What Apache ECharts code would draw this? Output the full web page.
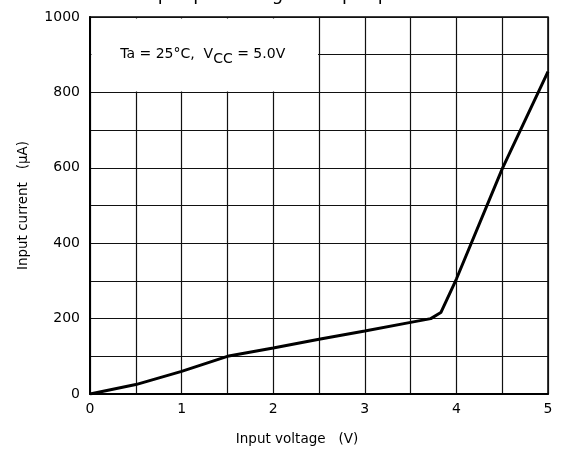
<!DOCTYPE html>
<html>
<head>
<meta charset="utf-8">
<script src="https://cdn.jsdelivr.net/npm/echarts@6/dist/echarts.min.js"></script>
<style>html,body{margin:0;padding:0;background:#fff;}#c{width:561px;height:459px;}</style>
</head>
<body>
<div id="c"></div>
<script>
const voltage = [0, 0.5, 1, 1.5, 2, 2.5, 3, 3.5, 3.72, 3.83, 4.0, 4.5, 5];
const current = [0, 25, 60, 100, 122, 145, 167, 190, 200, 216, 305, 597, 855];
const titleText = 'Input pin voltage vs input pin current';
const xName = 'Input voltage   (V)';
const yName = 'Input current   (\u03bcA)';

const font = 'DejaVu Sans';
const chart = echarts.init(document.getElementById('c'));
const option = {
  animation: false,
  backgroundColor: '#fff',
  title: {
    text: titleText, left: 136, top: -19,
    textStyle: { fontFamily: font, fontSize: 18, fontWeight: 'normal', color: '#000' }
  },
  grid: { left: 90, right: 13, top: 17, bottom: 65, show: true, borderColor: '#000', borderWidth: 1.5, backgroundColor: 'transparent' },
  xAxis: {
    type: 'value', min: 0, max: 5, interval: 0.5,
    name: xName, nameLocation: 'middle', nameGap: 38,
    nameTextStyle: { fontFamily: font, fontSize: 13.5, color: '#000', padding: [0, 44, 0, 0] },
    axisLine: { show: true, lineStyle: { color: '#000', width: 2 } },
    axisTick: { show: false },
    axisLabel: { fontFamily: font, fontSize: 14, color: '#000', margin: 8,
      formatter: v => (Math.abs(v - Math.round(v)) < 1e-9 ? String(Math.round(v)) : '') },
    splitLine: { show: true, lineStyle: { color: '#111', width: 1.2 } }
  },
  yAxis: {
    type: 'value', min: 0, max: 1000, interval: 100,
    name: yName, nameLocation: 'middle', nameGap: 60, nameRotate: 90,
    nameTextStyle: { fontFamily: font, fontSize: 13.5, color: '#000' },
    axisLine: { show: true, lineStyle: { color: '#000', width: 2 } },
    axisTick: { show: false },
    axisLabel: { fontFamily: font, fontSize: 14, color: '#000', margin: 10,
      formatter: v => (v % 200 === 0 ? String(v) : '') },
    splitLine: { show: true, lineStyle: { color: '#111', width: 1.2 } }
  },
  series: [{
    type: 'line', data: voltage.map((v, i) => [v, current[i]]),
    showSymbol: false, smooth: false,
    lineStyle: { color: '#000', width: 3 }, z: 5
  }]
};
chart.setOption(option);

const p0 = chart.convertToPixel({ xAxisIndex: 0, yAxisIndex: 0 }, [0, 1000]);
const p1 = chart.convertToPixel({ xAxisIndex: 0, yAxisIndex: 0 }, [2.5, 800]);
const pt = chart.convertToPixel({ xAxisIndex: 0, yAxisIndex: 0 }, [0.33, 900]);
chart.setOption({
  graphic: [
    { type: 'rect', z: 10, shape: { x: p0[0] + 1.5, y: p0[1] + 1.5, width: p1[0] - p0[0] - 2.5, height: p1[1] - p0[1] - 2.5 },
      style: { fill: '#fff' } },
    { type: 'text', z: 11, x: pt[0], y: pt[1],
      style: {
        text: '{a|Ta = 25°C,  V}{s|CC}{a| = 5.0V}',
        verticalAlign: 'middle', align: 'left',
        rich: {
          a: { fontFamily: font, fontSize: 14, fill: '#000', color: '#000' },
          s: { fontFamily: font, fontSize: 14, fill: '#000', color: '#000', padding: [9, 0, 0, 0] }
        }
      } }
  ]
});
</script>
</body>
</html>
